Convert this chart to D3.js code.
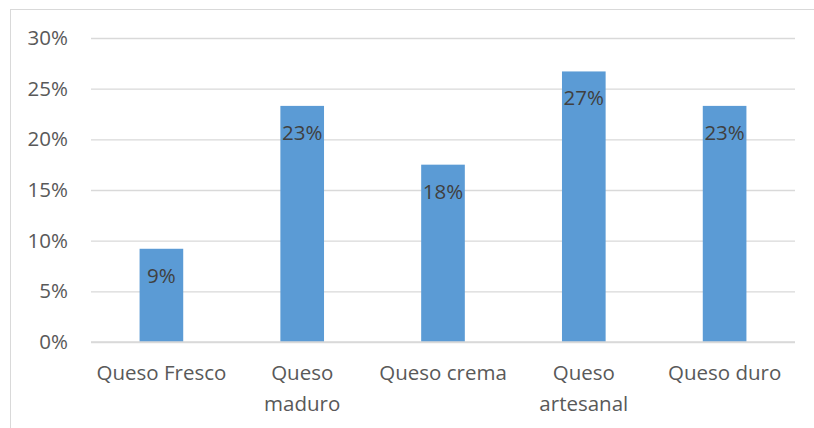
<!DOCTYPE html>
<html>
<head>
<meta charset="utf-8">
<script src="https://cdn.jsdelivr.net/npm/d3@7"></script>
<style>
  body { margin: 0; background: #fff; }
  text { font-family: "Open Sans", "Noto Sans", sans-serif; }
</style>
</head>
<body>
<div id="chart"></div>
<script>
//chart data
const categories = ["Queso Fresco", "Queso maduro", "Queso crema", "Queso artesanal", "Queso duro"];
const categoryLines = [["Queso Fresco"], ["Queso", "maduro"], ["Queso crema"], ["Queso", "artesanal"], ["Queso duro"]];
const values = [0.092, 0.233, 0.175, 0.267, 0.233];
const barLabels = ["9%", "23%", "18%", "27%", "23%"];
const yTicks = [0, 0.05, 0.10, 0.15, 0.20, 0.25, 0.30];

const width = 814;
const height = 428;
const margin = { top: 38, right: 19, bottom: 86, left: 91 };
const innerwidth = width - margin.left - margin.right;
const innerheight = height - margin.top - margin.bottom;
const fontSize = "20.5px";

const svg = d3.select("#chart")
    .append("svg")
    .attr("width", width)
    .attr("height", height);

//chart area border (only left and top show in the picture)
svg.append("rect")
    .attr("x", 10.5)
    .attr("y", 9.5)
    .attr("width", width + 10)
    .attr("height", height + 10)
    .attr("fill", "none")
    .attr("stroke", "#d9d9d9")
    .attr("stroke-width", 1);

const g = svg.append("g")
    .attr("transform", "translate(" + margin.left + "," + margin.top + ")");

const x = d3.scaleBand()
    .domain(categories)
    .range([0, innerwidth])
    .padding(0.69)
    .paddingOuter(0.345);

const y = d3.scaleLinear()
    .domain([0, 0.30])
    .range([innerheight, 0]);

//gridlines
g.append("g")
    .call(d3.axisLeft(y).tickValues(yTicks).tickSize(-innerwidth).tickFormat(""))
    .call(function (a) { a.select(".domain").remove(); })
    .selectAll("line")
    .attr("stroke", "#d9d9d9")
    .attr("stroke-width", 1.3);

//y tick labels
g.append("g")
    .call(d3.axisLeft(y).tickValues(yTicks).tickSize(0).tickPadding(23).tickFormat(d3.format(".0%")))
    .call(function (a) { a.select(".domain").remove(); })
    .selectAll("text")
    .attr("fill", "#595959")
    .style("font-size", fontSize);

//bars
g.selectAll(".bar")
    .data(values)
    .enter()
    .append("rect")
    .attr("class", "bar")
    .attr("x", function (d, i) { return x(categories[i]); })
    .attr("y", function (d) { return y(d); })
    .attr("width", x.bandwidth())
    .attr("height", function (d) { return innerheight - y(d); })
    .attr("fill", "#5b9bd5");

//value labels inside the bar tops
g.selectAll(".lbl")
    .data(values)
    .enter()
    .append("text")
    .attr("class", "lbl")
    .attr("x", function (d, i) { return x(categories[i]) + x.bandwidth() / 2; })
    .attr("y", function (d) { return y(d) + 34; })
    .attr("text-anchor", "middle")
    .attr("fill", "#404040")
    .style("font-size", fontSize)
    .text(function (d, i) { return barLabels[i]; });

//baseline
g.append("line")
    .attr("x1", 0)
    .attr("x2", innerwidth)
    .attr("y1", innerheight)
    .attr("y2", innerheight)
    .attr("stroke", "#d9d9d9")
    .attr("stroke-width", 1.3);

//category labels, wrapped like the original
const cat = g.selectAll(".cat")
    .data(categories)
    .enter()
    .append("text")
    .attr("class", "cat")
    .attr("text-anchor", "middle")
    .attr("fill", "#595959")
    .style("font-size", fontSize)
    .attr("transform", function (d) { return "translate(" + (x(d) + x.bandwidth() / 2) + "," + (innerheight + 38) + ")"; });

cat.each(function (d, i) {
    const t = d3.select(this);
    categoryLines[i].forEach(function (line, j) {
        t.append("tspan")
            .attr("x", 0)
            .attr("y", j * 31)
            .text(line);
    });
});
</script>
</body>
</html>
